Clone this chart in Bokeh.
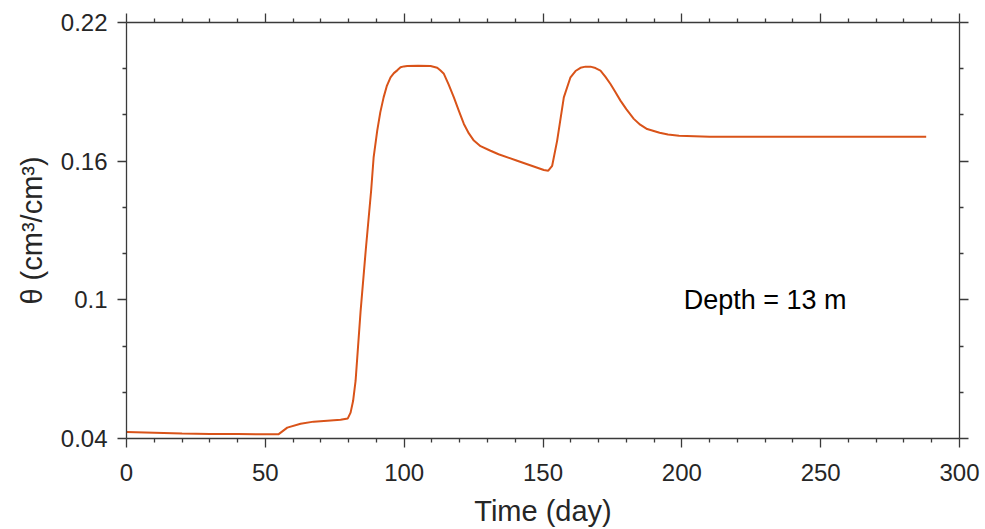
from bokeh.plotting import figure
from bokeh.models import (FixedTicker, LinearAxis, Label, CustomJSTickFormatter)
from bokeh.embed import file_html
from bokeh.resources import INLINE

# ---- data ----
days = [0, 10, 20, 30, 40, 50, 54.7, 57.9, 62.7, 67.4, 72.3, 77.1, 79.7, 80.7,
        81.6, 82.5, 84.3, 86.2, 88.1, 89.0, 90.3, 91.4, 92.6, 93.8, 95.1, 96.3,
        97.6, 98.7, 99.9, 101.1, 105, 109.5, 111.9, 113.0, 114.3, 116.0, 117.9,
        119.7, 121.5, 123.3, 125.1, 127.5, 131.1, 134.0, 140.7, 150.3, 151.9,
        153.3, 155.1, 157.5, 159.9, 161.7, 163.5, 165.3, 167.1, 168.9, 170.7,
        172.5, 174.3, 176.0, 177.9, 180.0, 182.7, 185.0, 187.5, 192, 195, 199,
        210, 250, 288]
theta = [0.0428, 0.0425, 0.0422, 0.0420, 0.0419, 0.0418, 0.0418, 0.0447, 0.0464,
         0.0473, 0.0477, 0.0481, 0.0487, 0.0512, 0.0562, 0.0649, 0.0950, 0.1220,
         0.1472, 0.1616, 0.1732, 0.1811, 0.1876, 0.1927, 0.1963, 0.1981, 0.1994,
         0.2006, 0.2010, 0.2012, 0.2013, 0.2012, 0.2004, 0.1993, 0.1978, 0.1932,
         0.1876, 0.1818, 0.1761, 0.1720, 0.1689, 0.1665, 0.1645, 0.1630, 0.1602,
         0.1562, 0.1559, 0.1580, 0.1689, 0.1876, 0.1963, 0.1990, 0.2004, 0.2009,
         0.2009, 0.2003, 0.1992, 0.1965, 0.1934, 0.1900, 0.1862, 0.1825, 0.1783,
         0.1758, 0.1739, 0.1723, 0.1715, 0.1710, 0.1706, 0.1706, 0.1706]

x_major = [0, 50, 100, 150, 200, 250, 300]
x_minor = [v for v in range(0, 301, 10) if v % 50]
y_major = [0.04, 0.10, 0.16, 0.22]
y_minor = [0.06, 0.08, 0.12, 0.14, 0.18, 0.20]
annotation = "Depth = 13 m"

FONT = "Liberation Sans"
AXC = "#3a3a3a"
TXC = "#262626"

p = figure(width=980, height=529, x_range=(0, 300), y_range=(0.04, 0.22),
           output_backend="svg", toolbar_location=None,
           min_border_left=126, min_border_right=21, min_border_top=22,
           min_border_bottom=91)
p.grid.visible = False
p.outline_line_color = None
p.background_fill_color = "white"

p.line(days, theta, line_color="#D95319", line_width=2)

fmt = CustomJSTickFormatter(code="return String(Number(tick.toFixed(2)));")

def style(ax, labels=True):
    ax.axis_line_color = AXC
    ax.axis_line_width = 1.3
    ax.major_tick_line_color = AXC
    ax.minor_tick_line_color = AXC
    ax.major_tick_line_width = 1.3
    ax.minor_tick_line_width = 1.3
    ax.major_tick_out = 9
    ax.major_tick_in = 0
    ax.minor_tick_out = 4
    ax.minor_tick_in = 0
    ax.major_label_text_font = FONT
    ax.major_label_text_font_size = "24px"
    ax.major_label_text_color = TXC if labels else None
    ax.axis_label_text_font = FONT
    ax.axis_label_text_font_style = "normal"
    ax.axis_label_text_color = TXC
    ax.axis_label_text_font_size = "29px"

xt = FixedTicker(ticks=x_major, minor_ticks=x_minor)
yt = FixedTicker(ticks=y_major, minor_ticks=y_minor)

p.xaxis.ticker = xt
p.yaxis.ticker = yt
p.yaxis.formatter = fmt
style(p.xaxis[0])
style(p.yaxis[0])
p.xaxis.axis_label = "Time (day)"
p.yaxis.axis_label = "θ (cm³/cm³)"
p.xaxis.major_label_standoff = 16
p.yaxis.major_label_standoff = 10
p.xaxis.axis_label_standoff = 11
p.yaxis.axis_label_standoff = 10

top = LinearAxis(ticker=xt)
style(top, labels=False)
top.major_label_text_font_size = "0px"
top.major_label_standoff = 0
p.add_layout(top, "above")
right = LinearAxis(ticker=yt)
style(right, labels=False)
right.major_label_text_font_size = "0px"
right.major_label_standoff = 0
p.add_layout(right, "right")

p.add_layout(Label(x=230, y=0.1, text=annotation, text_align="center",
                   text_baseline="middle", text_font=FONT,
                   text_font_size="27px", text_color="#000000"))

open("out.html", "w").write(file_html(p, INLINE))
